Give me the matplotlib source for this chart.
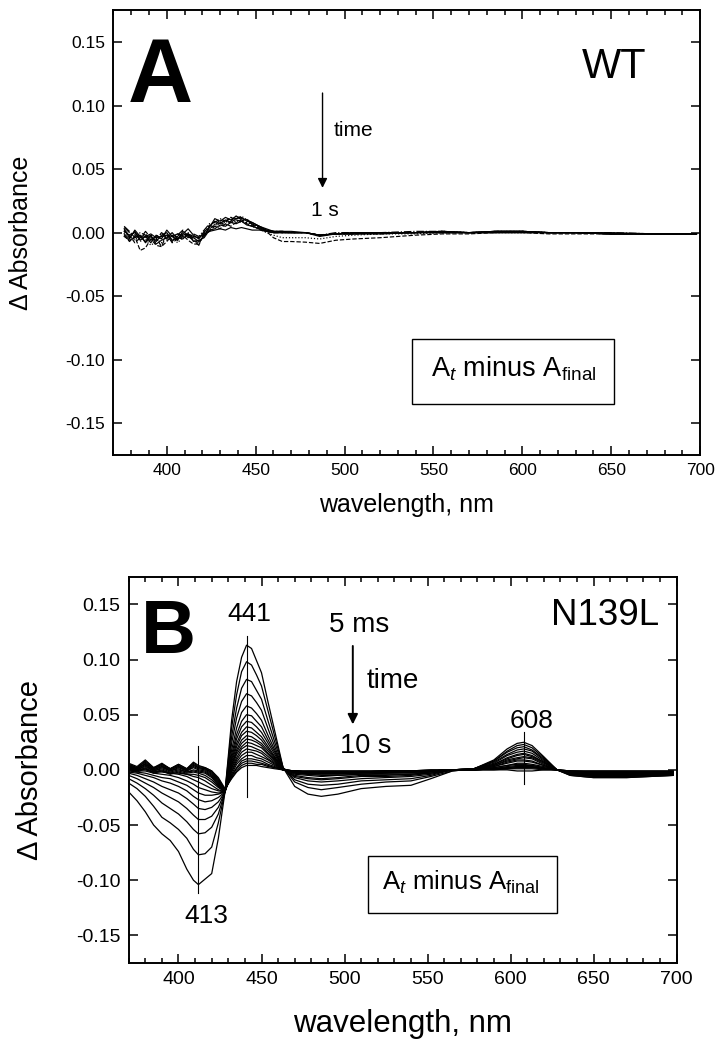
import numpy as np
import matplotlib
matplotlib.use('Agg')
import matplotlib.pyplot as plt
from matplotlib.patches import Rectangle
from matplotlib.ticker import MultipleLocator, FormatStrFormatter

plt.rcParams['font.family'] = ['Liberation Sans', 'DejaVu Sans']
plt.rcParams['mathtext.fontset'] = 'custom'
plt.rcParams['mathtext.rm'] = 'Liberation Sans'
plt.rcParams['mathtext.it'] = 'Liberation Sans:italic'
plt.rcParams['axes.unicode_minus'] = False

# ---- panel A (WT): values in mAbs ----
wl_a = [376, 379, 382, 385, 388, 391, 394, 397, 400, 403, 406, 409, 412, 415, 418,
        421, 424, 427, 430, 433, 436, 439, 442, 445, 448, 452, 456, 460,
        465, 470, 478, 486, 495, 505, 520, 540, 555, 570, 585, 600, 615, 630, 650, 675, 698]

spectra_a = [
    [3, -4, 1, -6, -3, -8, -2, -5, 2, -3, -6, 1, -2, -4, -7,
     -3, 5, 9, 7, 10, 8, 11, 12, 9, 8, 5, 3, 1,
     1, 0, 0, -2, -1, -1, -1, 0, 0, 0, 1, 1, 0, 0, -1, -1, -1],
    [-2, -7, -3, -14, -12, -5, -10, -11, -1, -8, -5, -2, -6, -9, -9,
     -1, 3, 6, 10, 8, 12, 10, 9, 11, 6, 4, 1, -4,
     -7, -7, -7.5, -8.5, -6, -5, -4, -2, -1, -1, 0, 0, -1, -1, -1, -1, -1],
    [1, -3, -6, -2, -5, -10, -7, -3, -6, -2, -8, -4, 0, -5, -3,
     -2, 2, 7, 5, 9, 11, 8, 10, 7, 5, 3, 0, -2,
     -4, -4, -4, -5, -3, -2, -1, -1, 0, 0, 0, 0, 0, 0, -1, -1, -1],
    [4, 0, -2, -5, 1, -4, -6, 0, -3, -7, -2, 2, -3, -6, -10,
     0, 6, 4, 8, 6, 9, 13, 10, 8, 7, 4, 2, 0,
     0, 0, 0, -2, -1, -1, 0, 0, 1, 0, 1, 1, 0, 0, -1, -1, -1],
    [-1, -5, 2, -3, -7, -2, -9, -6, -4, 0, -5, -1, 3, -2, -5,
     1, 4, 11, 9, 12, 10, 13, 11, 10, 8, 5, 2, 1,
     1, 1, 0, -2, -1, 0, 0, 0, 1, 0, 1, 1, 0, 0, 0, -1, -1],
    [2, -2, -8, -4, -1, -6, -4, -11, -7, -2, -6, -3, -1, -6, -8,
     -2, 1, 5, 3, 7, 5, 8, 9, 7, 5, 3, 1, 0,
     0, 0, 0, -2, -1, -1, -1, 0, 0, 0, 0, 0, 0, 0, -1, -1, -1],
    [0, -3, -1, -7, -4, -2, -5, -8, -3, -5, -1, -4, -2, -3, -4,
     0, 3, 6, 8, 9, 7, 10, 8, 8, 6, 4, 2, 1,
     0, 0, 0, -2, -1, 0, 0, 0, 1, 0, 0, 1, 0, 0, -1, -1, -1],
    [5, 1, -4, 0, -2, -6, -3, -1, -5, -4, -3, 0, -4, -1, -3,
     2, 7, 8, 11, 9, 12, 11, 13, 10, 7, 5, 2, 1,
     1, 0, 0, -2, 0, 0, 0, 1, 1, 0, 1, 1, 0, 0, 0, -1, -1],
    [-3, -6, -4, -2, -8, -3, -7, -2, 0, -6, -4, -5, -1, -7, -6,
     -4, 2, 3, 6, 5, 8, 7, 9, 6, 5, 3, 1, 0,
     0, 0, 0, -3, -1, -1, 0, 0, 0, 0, 0, 0, 0, 0, -1, -1, -1],
    [1, -2, 0, -4, -3, -1, -4, -3, -2, -3, -1, -2, -1, -3, -4,
     -1, 1, 2, 3, 2, 4, 3, 4, 3, 2, 2, 1, 0,
     0, 0, 0, -2, -1, 0, 0, 0, 1, 0, 1, 1, 0, 0, -1, -1, -1],
]
styles_a = ['-', '--', ':', '-.', '-', '--', ':', '-.', '-', '-']

# ---- panel B (N139L): values in mAbs, 5 ms ... 10 s ----
wl_b = [370, 375, 380, 385, 390, 395, 400, 405, 409, 412, 416, 420, 424, 428,
        432, 435, 438, 441, 444, 447, 450, 454, 458, 463,
        470, 478, 486, 496, 510, 525, 540, 552, 565,
        578, 590, 598, 604, 608, 613, 620, 628,
        636, 650, 670, 698]

spectra_b = [
    [-20, -28, -38, -50, -58, -64, -74, -90, -100, -104, -99, -94, -62, -20,
     45, 80, 102, 113, 110, 99, 88, 61, 35, 2,
     -15, -22, -24, -22, -17, -15, -14, -8, -1,
     1, 9, 19, 24, 25, 22, 12, 0, -5, -7, -7, -5],
    [-12, -17, -24, -33, -43, -48, -54, -62, -72, -77, -76, -70, -48, -20,
     38, 68, 89, 98, 95, 86, 76, 53, 30, 2,
     -11, -16, -18, -16, -13, -11, -10, -6, -1,
     1, 8, 17, 22, 23, 20, 11, 0, -5, -7, -7, -5],
    [-8, -12, -17, -23, -30, -35, -40, -47, -54, -58, -57, -52, -40, -20,
     30, 56, 74, 82, 80, 72, 64, 44, 25, 2,
     -9, -13, -14, -13, -10, -9, -8, -5, 0,
     1, 8, 16, 20, 21, 18, 10, 0, -4, -6, -6, -5],
    [-5, -8, -12, -16, -21, -25, -29, -35, -41, -45, -45, -42, -34, -20,
     24, 47, 62, 69, 67, 61, 54, 37, 21, 1,
     -7, -10, -11, -10, -8, -7, -6, -4, 0,
     1, 7, 14, 18, 19, 17, 9, 0, -4, -6, -6, -4],
    [-3, -5, -8, -11, -15, -18, -21, -26, -31, -35, -36, -34, -29, -20,
     18, 38, 52, 58, 56, 51, 45, 31, 18, 1,
     -6, -8, -9, -8, -6, -6, -5, -3, 0,
     1, 6, 13, 16, 17, 15, 8, 0, -4, -5, -5, -4],
    [-2, -3, -5, -7, -10, -12, -15, -19, -24, -27, -29, -28, -25, -20,
     14, 32, 44, 50, 49, 44, 39, 27, 16, 1,
     -5, -7, -8, -7, -5, -5, -4, -3, 0,
     1, 5, 11, 14, 15, 13, 7, 0, -4, -5, -5, -4],
    [-1, -2, -3, -5, -7, -8, -11, -14, -18, -21, -23, -23, -22, -20,
     11, 28, 39, 44, 43, 39, 34, 24, 14, 1,
     -4, -5, -6, -5, -4, -4, -4, -2, 0,
     1, 5, 10, 13, 14, 12, 7, 0, -3, -5, -5, -4],
    [0, -1, -1, -3, -4, -5, -7, -10, -13, -16, -18, -20, -21, -20,
     9, 24, 34, 39, 38, 34, 30, 21, 12, 1,
     -3, -4, -5, -5, -4, -3, -3, -2, 0,
     1, 4, 9, 11, 12, 11, 6, 0, -3, -4, -4, -3],
    [1, 0, 0, -2, -2, -3, -4, -6, -9, -11, -14, -17, -19, -20,
     7, 21, 31, 35, 34, 31, 27, 19, 11, 1,
     -3, -4, -4, -4, -3, -3, -2, -1, 0,
     0, 4, 8, 10, 11, 10, 5, 0, -3, -4, -4, -3],
    [1, 0, 1, -2, -1, -3, -3, -4, -6, -7, -10, -14, -18, -20,
     5, 18, 27, 31, 30, 27, 24, 17, 10, 1,
     -2, -3, -3, -3, -3, -2, -2, -1, 0,
     0, 3, 7, 9, 9, 8, 4, 0, -3, -4, -4, -3],
    [1, -2, 1, -3, -1, -4, -2, -4, -4, -5, -7, -11, -16, -20,
     4, 16, 24, 28, 27, 25, 22, 15, 9, 0,
     -2, -3, -3, -3, -2, -2, -2, -1, 0,
     0, 3, 6, 8, 8, 7, 4, 0, -2, -3, -3, -3],
    [2, -1, 2, -2, 0, -3, -1, -3, -2, -3, -5, -9, -15, -20,
     2, 14, 21, 25, 24, 22, 20, 14, 8, 0,
     -2, -3, -3, -3, -2, -2, -2, -1, 0,
     0, 2, 4, 6, 6, 5, 3, 0, -2, -3, -3, -3],
    [2, 0, 3, -1, 1, -2, 0, -2, -1, -2, -3, -7, -14, -20,
     1, 11, 19, 22, 21, 19, 17, 12, 7, 0,
     -2, -3, -3, -3, -2, -2, -2, -1, 0,
     0, 2, 4, 5, 5, 4, 2, 0, -2, -3, -3, -2],
    [3, 0, 4, -1, 2, -1, 1, -2, 0, -1, -2, -6, -13, -20,
     -1, 9, 16, 19, 18, 17, 15, 10, 6, 0,
     -2, -3, -3, -3, -2, -2, -2, -1, 0,
     0, 1, 3, 4, 4, 4, 2, 0, -2, -3, -3, -2],
    [3, 1, 5, 0, 3, -1, 2, -1, 2, 0, -1, -5, -12, -20,
     -2, 7, 13, 16, 16, 14, 12, 9, 5, 0,
     -1, -2, -2, -2, -2, -1, -1, -1, 0,
     0, 1, 2, 3, 3, 3, 1, 0, -2, -2, -2, -2],
    [4, 1, 5, 0, 3, 0, 3, -1, 3, 1, 0, -4, -11, -19,
     -4, 5, 10, 13, 13, 11, 10, 7, 4, 0,
     -1, -2, -2, -2, -2, -1, -1, -1, 0,
     0, 1, 2, 3, 3, 3, 1, 0, -2, -2, -2, -2],
    [4, 1, 6, 1, 4, 0, 3, 0, 4, 2, 1, -3, -10, -19,
     -5, 2, 8, 10, 10, 9, 8, 5, 3, 0,
     -1, -2, -2, -2, -2, -1, -1, -1, 0,
     0, 1, 1, 2, 2, 2, 1, 0, -1, -2, -2, -2],
    [5, 2, 7, 1, 5, 1, 4, 0, 5, 2, 1, -2, -9, -18,
     -6, 1, 6, 8, 8, 7, 6, 4, 2, 0,
     -1, -2, -2, -2, -2, -1, -1, -1, 0,
     0, 1, 1, 2, 2, 2, 1, 0, -1, -2, -2, -2],
    [5, 2, 8, 2, 5, 1, 5, 1, 6, 3, 2, -1, -8, -18,
     -7, -1, 4, 6, 6, 5, 5, 3, 2, 0,
     -1, -1, -1, -1, -1, -1, -1, 0, 0,
     0, 0, 1, 1, 1, 1, 0, 0, -1, -1, -1, -1],
    [6, 3, 9, 2, 6, 1, 5, 1, 7, 4, 2, -1, -7, -17,
     -8, -2, 2, 4, 4, 4, 3, 2, 1, 0,
     -1, -1, -1, -1, -1, -1, -1, 0, 0,
     0, 0, 0, -1, -1, -1, 0, 0, -1, -1, -1, -1],
]

# marked peak positions (nm) and extent of the marker lines (dAbs)
peak_marks_b = [(441, 0.121, -0.025), (412, 0.022, -0.112), (608, 0.034, -0.013)]


def style_axes(ax, tick_size):
    ax.set_xlim(370, 700)
    ax.set_ylim(-0.175, 0.175)
    ax.xaxis.set_major_locator(MultipleLocator(50))
    ax.xaxis.set_minor_locator(MultipleLocator(10))
    ax.yaxis.set_major_locator(MultipleLocator(0.05))
    ax.yaxis.set_major_formatter(FormatStrFormatter('%.2f'))
    ax.tick_params(which='both', direction='in', top=True, right=True, width=1.1)
    ax.tick_params(which='major', length=6.5, labelsize=tick_size, pad=6)
    ax.tick_params(which='minor', length=3.5)
    ax.tick_params(axis='y', which='minor', left=False, right=False)
    for s in ax.spines.values():
        s.set_linewidth(1.4)


fig = plt.figure(figsize=(7.21, 10.5), dpi=100)

# ---------------- panel A ----------------
ax1 = fig.add_axes([0.1574, 0.5666, 0.8136, 0.4237])
for row, ls in zip(spectra_a, styles_a):
    ax1.plot(wl_a, np.array(row) / 1000.0, color='black', lw=0.85, ls=ls)
style_axes(ax1, 12.5)
ax1.set_xlabel('wavelength, nm', fontsize=18)
ax1.set_ylabel('\u0394 Absorbance', fontsize=18)
ax1.xaxis.set_label_coords(0.5, -0.085)
ax1.yaxis.set_label_coords(-0.137, 0.5)

ax1.text(378, 0.1031, 'A', fontsize=65, fontweight='bold', ha='left', va='baseline')
ax1.text(670, 0.1219, 'WT', fontsize=30, ha='right', va='baseline')
ax1.annotate('', xy=(487.6, 0.033), xytext=(487.6, 0.112),
             arrowprops=dict(arrowstyle='-|>', color='black', lw=1.0, mutation_scale=14))
ax1.text(494, 0.0758, 'time', fontsize=15, ha='left', va='baseline')
ax1.text(489, 0.0133, '1 s', fontsize=15, ha='center', va='baseline')
ax1.add_patch(Rectangle((538, -0.135), 113.5, 0.051, fill=False, ec='black', lw=1.0))
ax1.text(595, -0.113, r'A$_{t}$ minus A$_{\mathrm{final}}$', fontsize=19.5,
         ha='center', va='baseline')

# ---------------- panel B ----------------
ax2 = fig.add_axes([0.1785, 0.0829, 0.7598, 0.3678])
for row in spectra_b:
    ax2.plot(wl_b, np.array(row) / 1000.0, color='black', lw=0.9)
for x, y_top, y_bot in peak_marks_b:
    ax2.plot([x, x], [y_bot, y_top], color='black', lw=0.8)
style_axes(ax2, 14)
ax2.set_xlabel('wavelength, nm', fontsize=22.5)
ax2.set_ylabel('\u0394 Absorbance', fontsize=21)
ax2.xaxis.set_label_coords(0.5, -0.12)
ax2.yaxis.set_label_coords(-0.155, 0.5)

ax2.text(377.4, 0.106, 'B', fontsize=55, fontweight='bold', ha='left', va='baseline')
ax2.text(689.8, 0.131, 'N139L', fontsize=26.5, ha='right', va='baseline')
ax2.text(442.6, 0.135, '441', fontsize=19, ha='center', va='baseline')
ax2.text(416.9, -0.139, '413', fontsize=19, ha='center', va='baseline')
ax2.text(612.6, 0.0378, '608', fontsize=19, ha='center', va='baseline')
ax2.text(508.6, 0.125, '5 ms', fontsize=20, ha='center', va='baseline')
ax2.text(529.4, 0.074, 'time', fontsize=20, ha='center', va='baseline')
ax2.text(513, 0.015, '10 s', fontsize=19.5, ha='center', va='baseline')
ax2.annotate('', xy=(505, 0.0387), xytext=(505, 0.1148),
             arrowprops=dict(arrowstyle='-|>', color='black', lw=1.4, mutation_scale=15))
ax2.add_patch(Rectangle((514.1, -0.130), 113.7, 0.0517, fill=False, ec='black', lw=1.0))
ax2.text(570, -0.1087, r'A$_{t}$ minus A$_{\mathrm{final}}$', fontsize=18.5,
         ha='center', va='baseline')

fig.savefig('out.png', dpi=100)
